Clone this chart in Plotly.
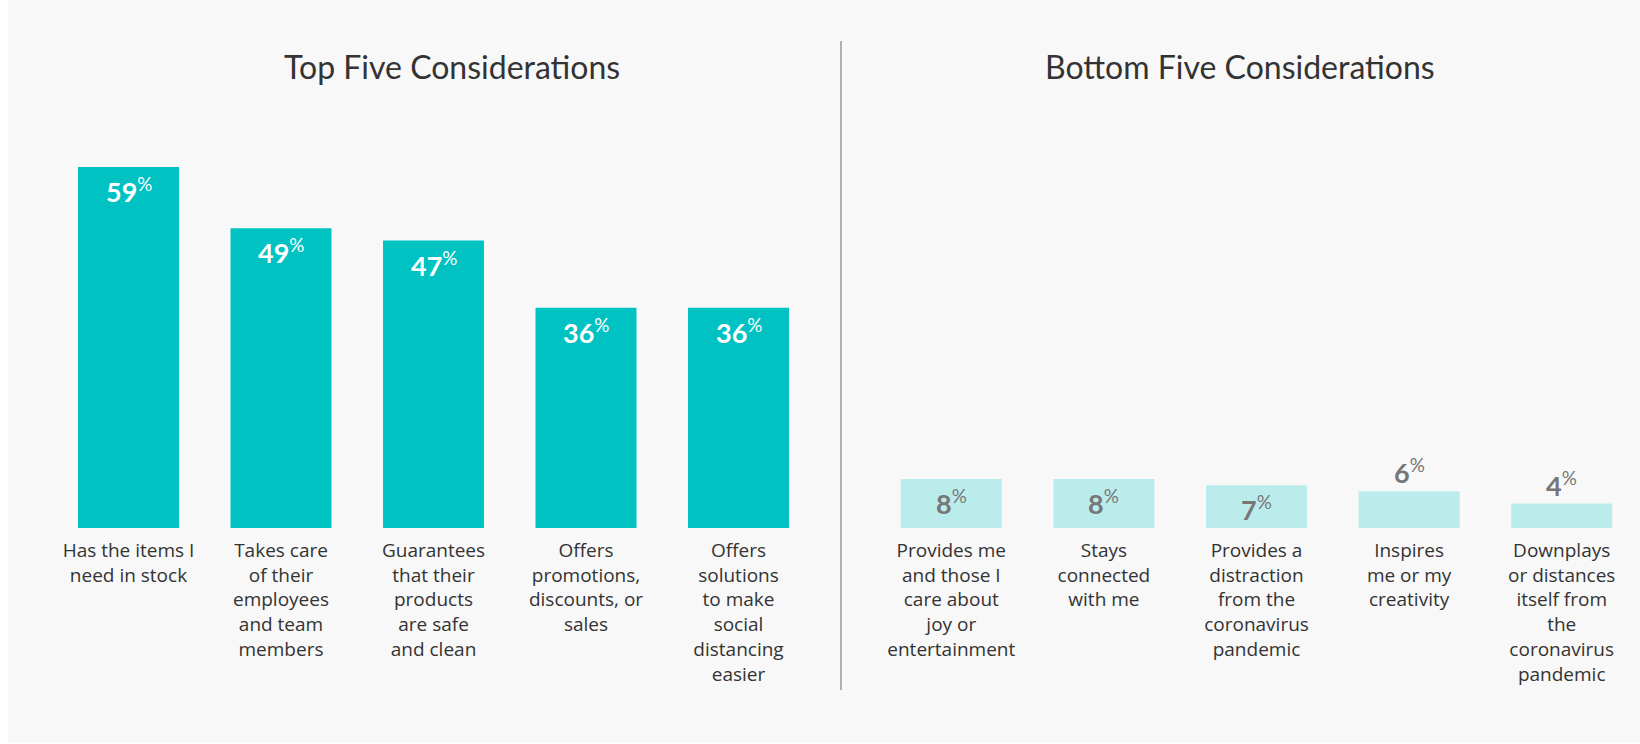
import plotly.graph_objects as go

# Survey shares (%) for the strongest and weakest purchase considerations
top_labels = [
    "Has the items I<br>need in stock",
    "Takes care<br>of their<br>employees<br>and team<br>members",
    "Guarantees<br>that their<br>products<br>are safe<br>and clean",
    "Offers<br>promotions,<br>discounts, or<br>sales",
    "Offers<br>solutions<br>to make<br>social<br>distancing<br>easier",
]
top_values = [59, 49, 47, 36, 36]

bottom_labels = [
    "Provides me<br>and those I<br>care about<br>joy or<br>entertainment",
    "Stays<br>connected<br>with me",
    "Provides a<br>distraction<br>from the<br>coronavirus<br>pandemic",
    "Inspires<br>me or my<br>creativity",
    "Downplays<br>or distances<br>itself from<br>the<br>coronavirus<br>pandemic",
]
bottom_values = [8, 8, 7, 6, 4]

titles = ["Top Five Considerations", "Bottom Five Considerations"]

W, H = 1640, 744
TEAL = "#00c2c2"
PALE = "#bbecec"
TEXT = "#333333"
GREY_LABEL = "#767676"
FONT = "Lato"
LABEL_FONT = "Open Sans"

fig = go.Figure()

fig.add_trace(go.Bar(
    x=list(range(len(top_values))), y=top_values,
    marker=dict(color=TEAL, line=dict(width=0)),
    xaxis="x", yaxis="y", hoverinfo="skip", showlegend=False,
))
fig.add_trace(go.Bar(
    x=list(range(len(bottom_values))), y=bottom_values,
    marker=dict(color=PALE, line=dict(width=0)),
    xaxis="x2", yaxis="y2", hoverinfo="skip", showlegend=False,
))

annotations = []

# value labels: inside the bar near its top, or just above short bars
def value_labels(values, xref, yref, color_in, color_out):
    for i, v in enumerate(values):
        inside = v >= 7
        annotations.append(dict(
            x=i, y=v, xref=xref, yref=yref,
            text=f"<b>{v}</b><sup>%</sup>",
            showarrow=False, xanchor="center", yanchor="middle",
            yshift=-23 if inside else 20,
            font=dict(family=FONT, size=27, color=color_in if inside else color_out),
        ))

value_labels(top_values, "x", "y", "white", TEXT)
value_labels(bottom_values, "x2", "y2", GREY_LABEL, GREY_LABEL)

# panel titles
for title, xc in zip(titles, [452, 1240]):
    annotations.append(dict(
        x=xc / W, y=1 - 66 / H, xref="paper", yref="paper",
        text=title, showarrow=False, xanchor="center", yanchor="middle",
        font=dict(family=FONT, size=32, color=TEXT),
    ))

axis_common = dict(
    type="linear", showgrid=False, zeroline=False, showline=False,
    ticks="", tickmode="array", ticklabelstandoff=9,
    tickfont=dict(family=LABEL_FONT, size=19, color=TEXT),
    range=[-0.5, 4.5], fixedrange=True,
)
yaxis_common = dict(
    range=[0, 60], showgrid=False, zeroline=False, showline=False,
    showticklabels=False, domain=[1 - 528 / H, 1 - 161 / H], fixedrange=True,
)

fig.update_layout(
    width=W, height=H,
    margin=dict(l=0, r=0, t=0, b=0),
    paper_bgcolor="#f8f8f8", plot_bgcolor="rgba(0,0,0,0)",
    bargap=0.338,
    xaxis=dict(axis_common, domain=[52.25 / W, 814.75 / W], anchor="y",
               tickvals=list(range(5)), ticktext=top_labels),
    xaxis2=dict(axis_common, domain=[875 / W, 1638 / W], anchor="y2",
                tickvals=list(range(5)), ticktext=bottom_labels),
    yaxis=dict(yaxis_common, anchor="x"),
    yaxis2=dict(yaxis_common, anchor="x2"),
    annotations=annotations,
    shapes=[
        # white strip along the left and bottom edges of the card
        dict(type="rect", xref="paper", yref="paper", x0=0, x1=8 / W, y0=0, y1=1,
             fillcolor="white", line=dict(width=0), layer="below"),
        dict(type="rect", xref="paper", yref="paper", x0=0, x1=1, y0=0, y1=1 / H,
             fillcolor="white", line=dict(width=0), layer="below"),
        # vertical divider between the two panels
        dict(type="line", xref="paper", yref="paper",
             x0=841 / W, x1=841 / W, y0=1 - 690 / H, y1=1 - 41 / H,
             line=dict(color="#6b6b6b", width=1)),
    ],
)

fig.write_html("out.html", config=dict(displayModeBar=False))
